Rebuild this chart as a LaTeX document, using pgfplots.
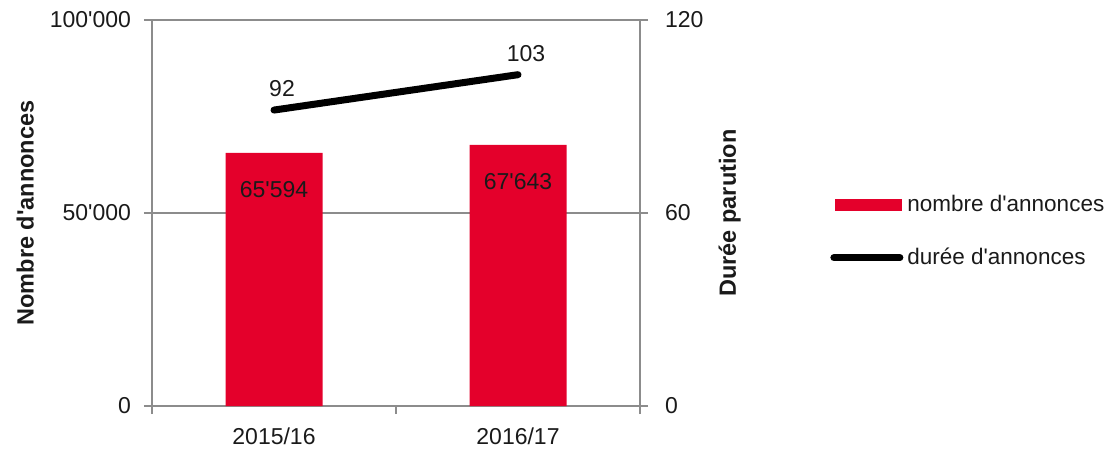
\documentclass[border=0pt]{standalone}
\usepackage{fontspec}
\setmainfont{Liberation Sans}
\usepackage{pgfplots}
\pgfplotsset{compat=1.18}
\definecolor{barred}{HTML}{E4002B}
\definecolor{axgray}{HTML}{8C8C8C}
\definecolor{txt}{HTML}{1A1A1A}
\newcommand{\q}{\textquotesingle}
\pgfplotsset{
  barleg/.style={legend image code/.code={\fill[##1] (1.5pt,-3pt) rectangle (35pt,3pt);}},
  lineleg/.style={legend image code/.code={\draw[##1] (1pt,0pt) -- (34pt,0pt);}},
}
\begin{document}
\begin{tikzpicture}[font=\fontsize{11.5}{13.8}\selectfont]
\useasboundingbox (0,0) rectangle (555.5pt,227.5pt);
\pgfplotsset{
 common/.style={
  at={(76pt,24.5pt)}, anchor=south west, scale only axis,
  width=244pt, height=193pt,
  xmin=-0.5, xmax=1.5,
  axis line style={axgray, line width=0.8pt},
  tick style={axgray, line width=0.8pt},
  major tick length=4pt, minor tick length=4pt,
  tick align=outside,
  scaled y ticks=false,
  /pgf/number format/assume math mode=true,
  ticklabel style={text=txt, font=\fontsize{11.5}{13.8}\selectfont},
 }
}
\begin{axis}[common,
  ymin=0, ymax=100000,
  ytick={0,50000,100000}, yticklabels={0,50\q000,100\q000},
  ytick pos=left,
  yticklabel style={xshift=-3pt},
  xtick={0,1}, xticklabels={2015/16,2016/17}, xtick pos=bottom,
  minor xtick={-0.5,0.5,1.5},
  major x tick style={draw=none},
  minor x tick style={draw=axgray, line width=0.8pt},
  xticklabel style={yshift=-3.5pt},
  ymajorgrids, major grid style={axgray, line width=0.8pt},
  ylabel={Nombre d\q annonces},
  every axis y label/.style={at={(axis description cs:-0.26,0.5)}, rotate=90, anchor=center, font=\bfseries\fontsize{11.75}{14}\selectfont, text=txt},
]
\addplot[ybar, bar width=48.5pt, fill=barred, draw=none,
  nodes near coords, point meta=explicit symbolic,
  every node near coord/.append style={anchor=center, yshift=-18.5pt, text=txt}]
  coordinates {(0,65594) [65\q594] (1,67643) [67\q643]};
\end{axis}
\begin{axis}[common,
  ymin=0, ymax=120,
  ytick={0,60,120},
  axis y line*=right, hide x axis,
  yticklabel style={xshift=5pt},
  ylabel={Durée parution},
  every axis y label/.style={at={(axis description cs:1.184,0.5)}, rotate=90, anchor=center, font=\bfseries\fontsize{11.75}{14}\selectfont, text=txt},
  legend style={draw=none, fill=none, at={(axis description cs:1.377,0.452)}, anchor=west,
    row sep=12.5pt, font=\fontsize{11.25}{13.5}\selectfont, text=txt},
  legend cell align=left,
]
\addlegendimage{barleg, fill=barred, draw=none}
\addlegendentry{nombre d\q annonces}
\addplot[black, line width=3.5pt, line cap=round, mark=none, lineleg,
  nodes near coords, point meta=explicit symbolic,
  every node near coord/.append style={anchor=center, xshift=4pt, yshift=10.5pt, text=txt, line width=0.4pt}]
  coordinates {(0,92) [92] (1,103) [103]};
\addlegendentry{durée d\q annonces}
\end{axis}
\end{tikzpicture}
\end{document}
